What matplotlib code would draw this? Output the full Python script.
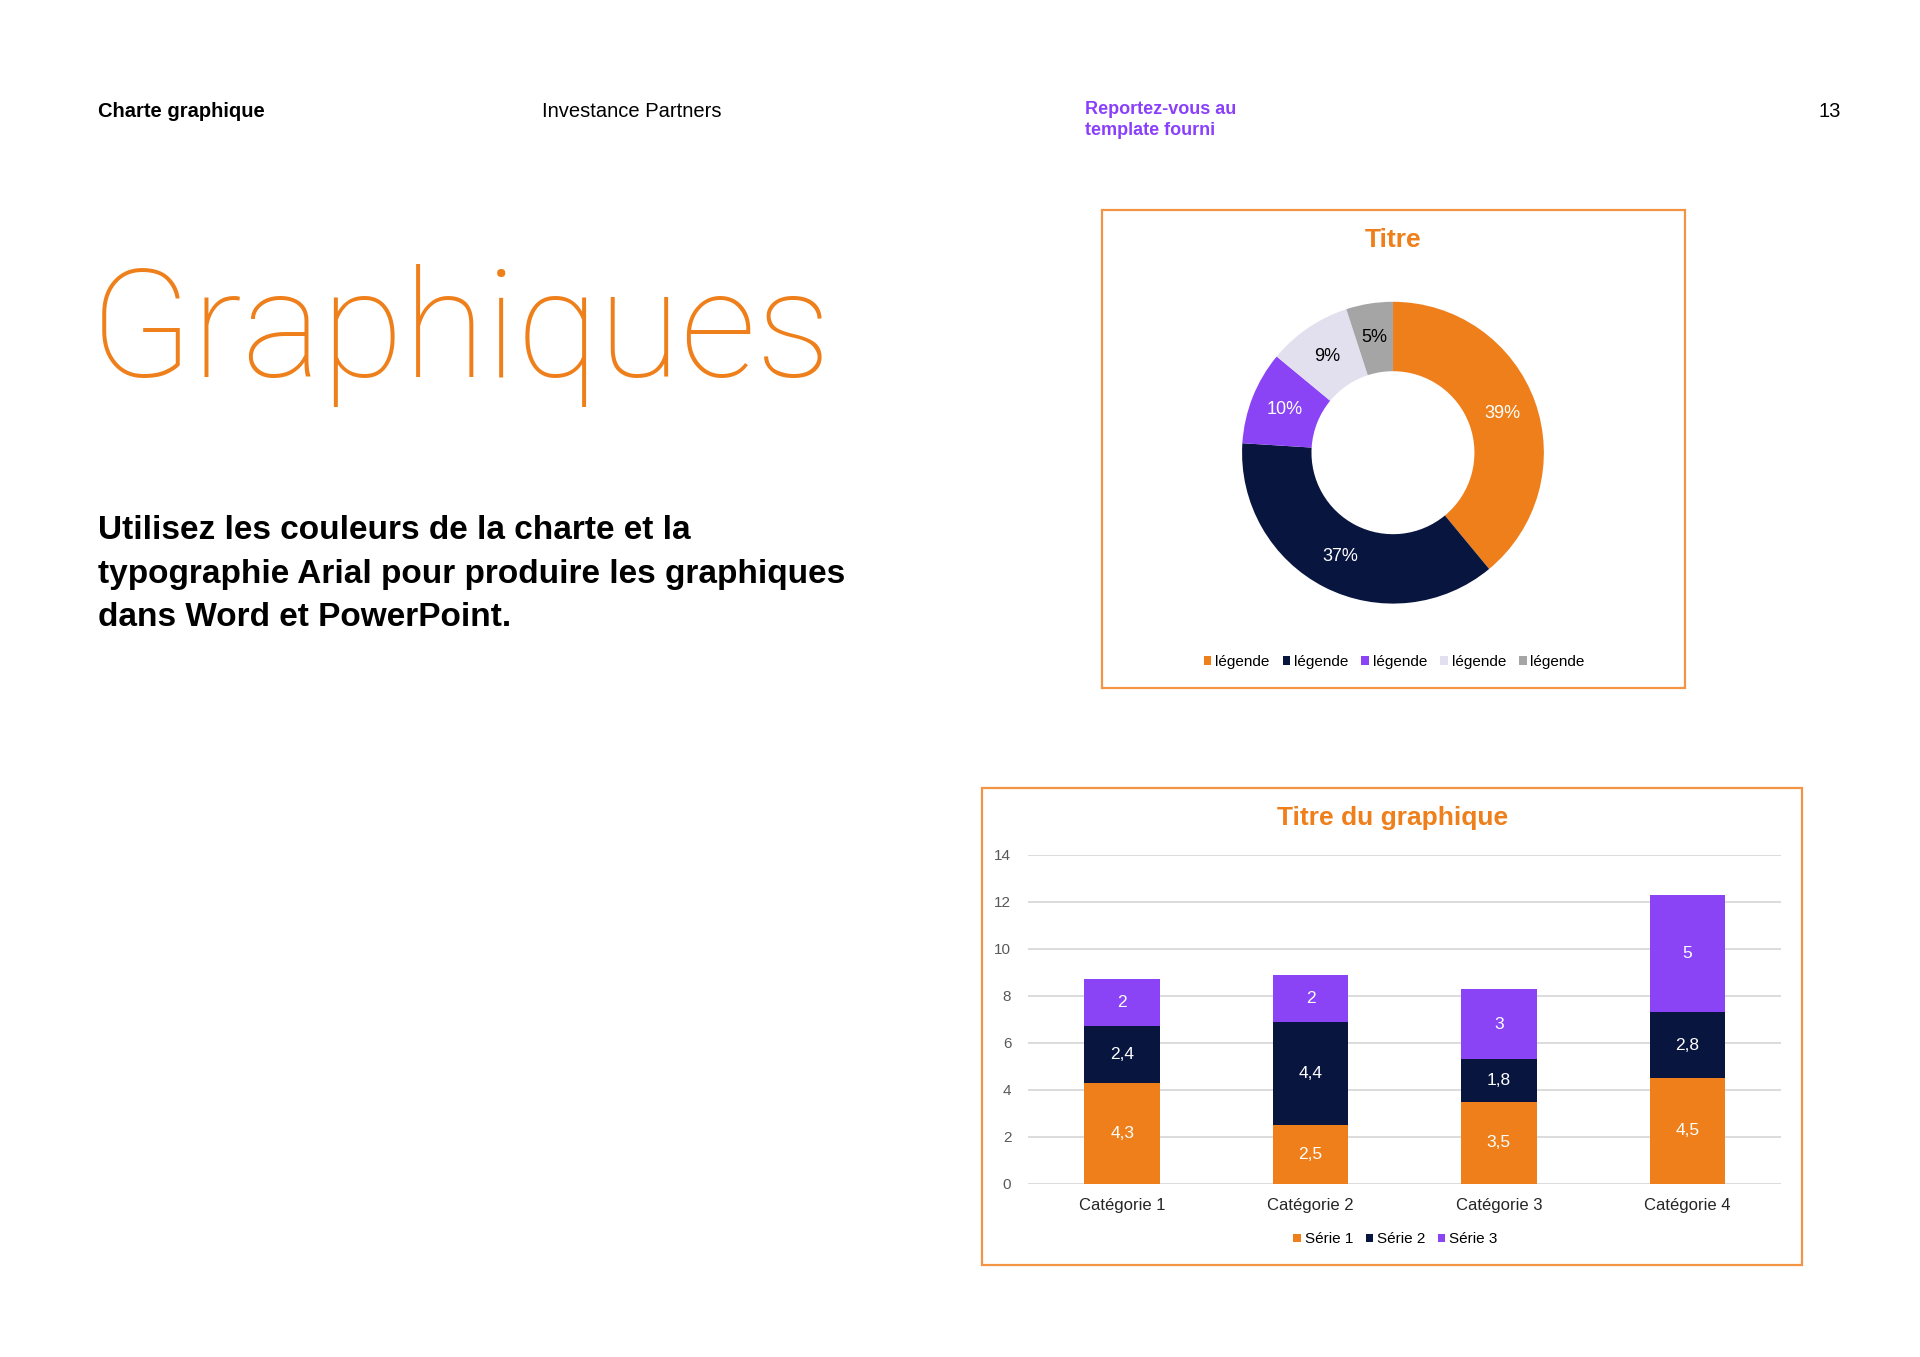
import numpy as np
import matplotlib
matplotlib.use("Agg")
import matplotlib.pyplot as plt
from matplotlib.patches import Rectangle

plt.rcParams['font.family'] = ['Liberation Sans', 'DejaVu Sans']

# couleurs de la charte
ORANGE = '#EE7F1A'
NAVY = '#08153F'
PURPLE = '#8A44F6'
LAVENDER = '#E2E0EE'
GREY = '#A5A5A5'
BORDER = '#F29443'

# donnees du donut
donut_labels = ['légende', 'légende', 'légende', 'légende', 'légende']
donut_values = [39, 37, 10, 9, 5]
donut_colors = [ORANGE, NAVY, PURPLE, LAVENDER, GREY]
donut_text_colors = ['white', 'white', 'white', 'black', 'black']

# donnees du graphique empile
categories = ['Catégorie 1', 'Catégorie 2', 'Catégorie 3', 'Catégorie 4']
series_names = ['Série 1', 'Série 2', 'Série 3']
serie1 = [4.3, 2.5, 3.5, 4.5]
serie2 = [2.4, 4.4, 1.8, 2.8]
serie3 = [2, 2, 3, 5]
yticks = [0, 2, 4, 6, 8, 10, 12, 14]

fig = plt.figure(figsize=(19.2, 13.57), dpi=100)
fig.patch.set_facecolor('white')

# en-tete
fig.text(0.0509, 0.918, 'Charte graphique', fontsize=14.5, fontweight='bold', va='center')
fig.text(0.2822, 0.918, 'Investance Partners', fontsize=14.5, va='center')
fig.text(0.565, 0.9115, 'Reportez-vous au\ntemplate fourni', fontsize=13, fontweight='bold',
         color='#8A3FFC', va='center', linespacing=1.25)
fig.text(0.9588, 0.918, '13', fontsize=14.5, ha='right', va='center')

fig.text(0.047, 0.722, 'Graphiques', fontsize=108, color=ORANGE, va='baseline',
         family=['Roboto', 'Liberation Sans'], fontweight='light')

fig.text(0.0509, 0.577, 'Utilisez les couleurs de la charte et la\n'
         'typographie Arial pour produire les graphiques\n'
         'dans Word et PowerPoint.', fontsize=24, fontweight='bold', va='center',
         linespacing=1.52)

# cadres
fig.add_artist(Rectangle((0.574, 0.4932), 0.3036, 0.3518, transform=fig.transFigure,
                         fill=False, edgecolor=BORDER, lw=1.6))
fig.add_artist(Rectangle((0.5116, 0.0675), 0.4272, 0.3518, transform=fig.transFigure,
                         fill=False, edgecolor=BORDER, lw=1.6))

# donut
cx, cy = 0.7255, 0.6664
w, h = 0.1572, 0.2224
ax_d = fig.add_axes([cx - w / 2, cy - h / 2, w, h])
wedges, _, autotexts = ax_d.pie(donut_values, colors=donut_colors, startangle=90,
                                counterclock=False, radius=1,
                                wedgeprops=dict(width=0.46, edgecolor='none'),
                                autopct=lambda p: f'{p:.0f}%', pctdistance=0.77)
for t, c in zip(autotexts, donut_text_colors):
    t.set_color(c)
    t.set_fontsize(13)
ax_d.set_xlim(-1, 1)
ax_d.set_ylim(-1, 1)
ax_d.set_aspect('equal')

fig.text(0.7255, 0.8232, 'Titre', fontsize=19, fontweight='bold', color=ORANGE,
         ha='center', va='center')
fig.legend(wedges, donut_labels, loc='center', bbox_to_anchor=(0.7262, 0.5123), ncol=5,
           frameon=False, fontsize=11, handlelength=0.5, handleheight=0.5,
           handletextpad=0.25, columnspacing=0.85)

# barres empilees
ax_b = fig.add_axes([0.5354, 0.1276, 0.3924, 0.2425])
x = np.arange(len(categories))
bottom2 = np.array(serie1)
bottom3 = bottom2 + np.array(serie2)
bars = [
    ax_b.bar(x, serie1, 0.4, color=ORANGE, label=series_names[0]),
    ax_b.bar(x, serie2, 0.4, bottom=bottom2, color=NAVY, label=series_names[1]),
    ax_b.bar(x, serie3, 0.4, bottom=bottom3, color=PURPLE, label=series_names[2]),
]
for b, vals in zip(bars, [serie1, serie2, serie3]):
    ax_b.bar_label(b, labels=[f'{v:g}'.replace('.', ',') for v in vals],
                   label_type='center', color='white', fontsize=12.5)

ax_b.set_xlim(-0.5, 3.5)
ax_b.set_ylim(0, 14)
ax_b.set_yticks(yticks)
ax_b.set_xticks(x)
ax_b.set_xticklabels(categories)
ax_b.yaxis.grid(True, color='#D9D9D9', lw=1.3)
ax_b.set_axisbelow(True)
for s in ax_b.spines.values():
    s.set_visible(False)
ax_b.tick_params(axis='y', length=0, pad=12, labelsize=11, labelcolor='#595959')
ax_b.tick_params(axis='x', length=0, pad=10, labelsize=12, labelcolor='#262626')

fig.text(0.7255, 0.3974, 'Titre du graphique', fontsize=19, fontweight='bold', color=ORANGE,
         ha='center', va='center')
fig.legend(handles=bars, labels=series_names, loc='center', bbox_to_anchor=(0.7268, 0.0866),
           ncol=3, frameon=False, fontsize=11, handlelength=0.5, handleheight=0.5,
           handletextpad=0.25, columnspacing=0.8)

fig.savefig('out.png', dpi=100)
